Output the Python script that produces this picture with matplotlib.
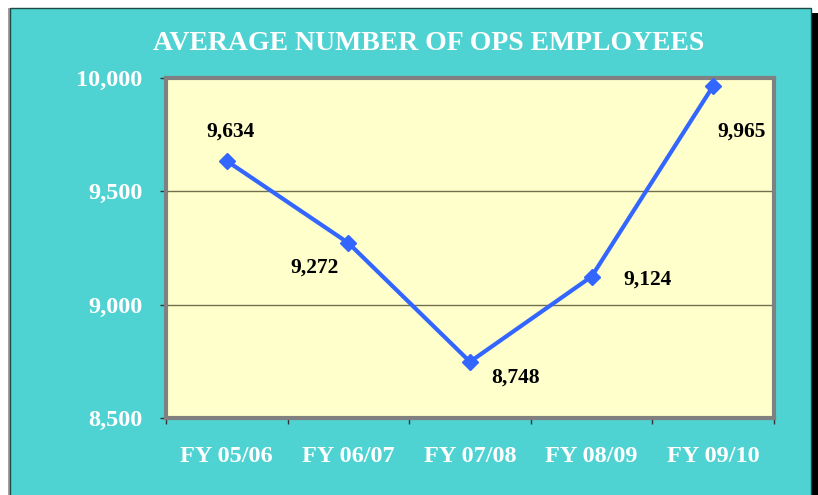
import matplotlib
matplotlib.use("Agg")
import matplotlib.pyplot as plt
from matplotlib.patches import Rectangle
from matplotlib.ticker import FuncFormatter, FixedLocator

categories = ["FY 05/06", "FY 06/07", "FY 07/08", "FY 08/09", "FY 09/10"]
employees = [9634, 9272, 8748, 9124, 9965]
y_ticks = [8500, 9000, 9500, 10000]
title = "AVERAGE NUMBER OF OPS EMPLOYEES"

# label offsets in pixels (dx, dy) relative to each point
label_offsets = [(4, 29), (-34, -25), (46, -16), (56, -3), (28, -46)]

W, H, DPI = 818, 495, 100
fig = plt.figure(figsize=(W / DPI, H / DPI), dpi=DPI)
fig.patch.set_facecolor("white")

teal = "#4ED3D2"
# black shadow on right
fig.add_artist(Rectangle((811 / W, 0), 7 / W, (H - 13) / H, transform=fig.transFigure,
                         facecolor="black", edgecolor="none", zorder=0))
# gray line left of panel
fig.add_artist(Rectangle((8 / W, 0), 1.5 / W, (H - 8) / H, transform=fig.transFigure,
                         facecolor="#A0A0A0", edgecolor="none", zorder=0))
# teal panel
fig.add_artist(Rectangle((9.5 / W, -0.01), 801 / W, (H - 8) / H + 0.01, transform=fig.transFigure,
                         facecolor=teal, edgecolor="#1E4A48", linewidth=1.0, zorder=0))

ax = fig.add_axes([166 / W, 1 - 418 / H, (774 - 166) / W, (418 - 78) / H])
ax.set_facecolor("#FFFFCC")

x = list(range(len(categories)))
ax.plot(x, employees, color="#3366FF", linewidth=3, marker="D", markersize=8,
        markerfacecolor="#3366FF", markeredgecolor="#3366FF", zorder=3)

ax.set_xlim(-0.5, len(categories) - 0.5)
ax.set_ylim(y_ticks[0], y_ticks[-1])
ax.set_yticks(y_ticks)
ax.yaxis.set_major_formatter(FuncFormatter(lambda v, p: f"{int(v):,}"))
ax.grid(axis="y", color="#707050", linewidth=1.0)
ax.set_axisbelow(True)

ax.set_xticks(x)
ax.set_xticklabels(categories)
ax.xaxis.set_minor_locator(FixedLocator([i - 0.5 for i in range(len(categories) + 1)]))
ax.tick_params(axis="x", which="major", length=0, pad=20)
ax.tick_params(axis="x", which="minor", length=4, width=1, color="#333333", direction="out")
ax.tick_params(axis="y", length=4, width=1, color="#333333", direction="out", pad=13)

serif = ["Liberation Serif", "DejaVu Serif"]
for lab in ax.get_xticklabels():
    lab.set_fontfamily(serif); lab.set_fontsize(17.5); lab.set_fontweight("bold"); lab.set_color("white")
for lab in ax.get_yticklabels():
    lab.set_fontfamily(serif); lab.set_fontsize(17.5); lab.set_fontweight("bold"); lab.set_color("white")

for s in ax.spines.values():
    s.set_color("#808080")
    s.set_linewidth(3)

for xi, v, (dx, dy) in zip(x, employees, label_offsets):
    ax.annotate(f"{v:,}", (xi, v), xytext=(dx, dy), textcoords="offset pixels",
                ha="center", va="center", fontsize=15.5, fontweight="bold",
                family=serif, color="black", zorder=4)

fig.text(429 / W, 1 - 43 / H, title, ha="center", va="center", fontsize=20,
         fontweight="bold", family=serif, color="white")

fig.savefig("out.png", dpi=DPI)
